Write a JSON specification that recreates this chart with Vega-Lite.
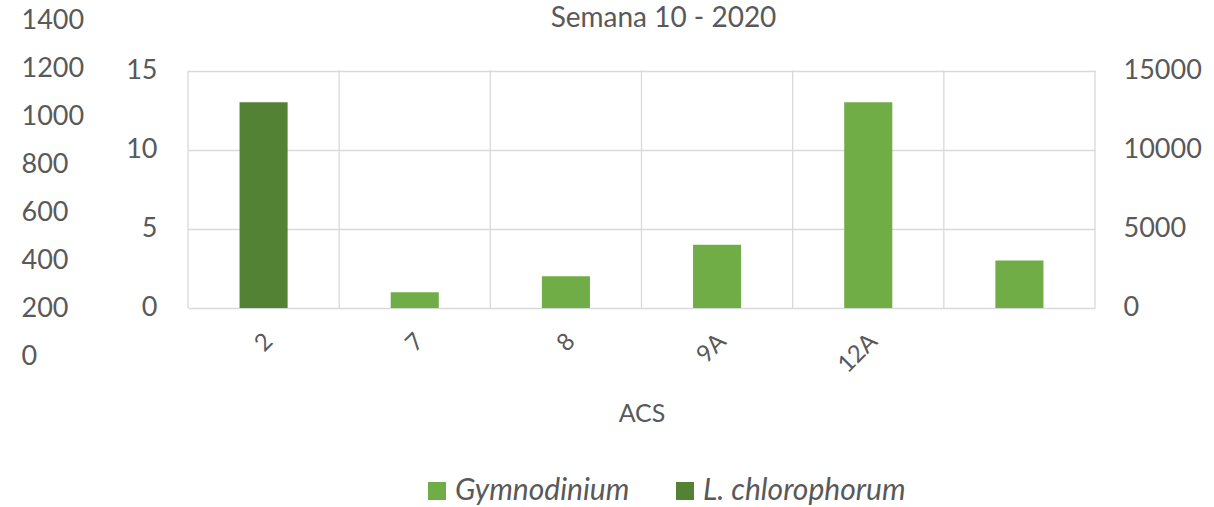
{
  "$schema": "https://vega.github.io/schema/vega-lite/v6.json",
  "width": 907,
  "height": 336,
  "autosize": {"type": "none"},
  "padding": {"left": 188, "top": 20, "right": 119, "bottom": 151},
  "background": "white",
  "title": {
    "text": "Semana 10 - 2020",
    "anchor": "middle",
    "frame": "group",
    "fontSize": 28,
    "font": "Lato",
    "fontWeight": "normal",
    "color": "#595959",
    "dx": 22,
    "offset": -27
  },
  "data": {
    "values": [
      {"acs": "2", "species": "L. chlorophorum", "value": 13},
      {"acs": "7", "species": "Gymnodinium", "value": 1000},
      {"acs": "8", "species": "Gymnodinium", "value": 2000},
      {"acs": "9A", "species": "Gymnodinium", "value": 4000},
      {"acs": "12A", "species": "Gymnodinium", "value": 13000},
      {"acs": " ", "species": "Gymnodinium", "value": 3000}
    ]
  },
  "layer": [
    {
      "mark": {"type": "rule", "color": "#d9d9d9", "strokeWidth": 1.3},
      "encoding": {
        "x": {"field": "acs", "type": "nominal", "bandPosition": 0,
              "scale": {"type": "band", "domain": ["2", "7", "8", "9A", "12A", " "], "paddingInner": 0, "paddingOuter": 0},
              "axis": {"title": "ACS", "labelAngle": -45, "labelFontSize": 24, "titleFontSize": 25, "offset": -48, "domain": false, "ticks": false, "grid": false, "labelPadding": 21, "labelOffset": -3, "titlePadding": 24}},
        "y": {"datum": 0, "type": "quantitative", "scale": {"domain": [-3.032, 18.19], "nice": false, "zero": false}, "axis": null},
        "y2": {"datum": 15}
      }
    },
    {
      "transform": [{"filter": "datum.acs === ' '"}],
      "mark": {"type": "rule", "color": "#d9d9d9", "strokeWidth": 1.3},
      "encoding": {
        "x": {"field": "acs", "type": "nominal", "bandPosition": 1,
              "scale": {"type": "band", "domain": ["2", "7", "8", "9A", "12A", " "], "paddingInner": 0, "paddingOuter": 0},
              "axis": {"title": "ACS", "labelAngle": -45, "labelFontSize": 24, "titleFontSize": 25, "offset": -48, "domain": false, "ticks": false, "grid": false, "labelPadding": 21, "labelOffset": -3, "titlePadding": 24}},
        "y": {"datum": 0, "type": "quantitative", "scale": {"domain": [-3.032, 18.19], "nice": false, "zero": false}, "axis": null},
        "y2": {"datum": 15}
      }
    },
    {
      "transform": [{"filter": "datum.species === 'L. chlorophorum'"}],
      "mark": {"type": "bar", "width": {"band": 0.318}},
      "encoding": {
        "x": {"field": "acs", "type": "nominal",
              "scale": {"type": "band", "domain": ["2", "7", "8", "9A", "12A", " "], "paddingInner": 0, "paddingOuter": 0},
              "axis": {"title": "ACS", "labelAngle": -45, "labelFontSize": 24, "titleFontSize": 25, "offset": -48, "domain": false, "ticks": false, "grid": false, "labelPadding": 21, "labelOffset": -3, "titlePadding": 24}},
        "y": {"field": "value", "type": "quantitative",
              "scale": {"domain": [-3.032, 18.19], "nice": false, "zero": false},
              "axis": {"orient": "left", "values": [0, 5, 10, 15], "format": "d", "grid": true, "gridColor": "#d9d9d9", "gridWidth": 1.3, "domain": false, "ticks": false, "labelPadding": 31, "title": null}},
        "color": {"field": "species", "type": "nominal",
                  "scale": {"domain": ["Gymnodinium", "L. chlorophorum"], "range": ["#70AD47", "#548235"]},
                  "legend": {"orient": "none", "legendX": 234, "legendY": 456, "direction": "horizontal", "title": null, "symbolType": "square", "symbolSize": 324, "symbolStrokeWidth": 0, "symbolOpacity": 1, "labelFontStyle": "italic", "labelFontSize": 30, "labelFont": "Lato", "labelColor": "#595959", "labelOffset": 3, "labelLimit": 500, "columnPadding": 40}}
      }
    },
    {
      "transform": [{"filter": "datum.species === 'Gymnodinium'"}],
      "mark": {"type": "bar", "width": {"band": 0.318}},
      "encoding": {
        "x": {"field": "acs", "type": "nominal",
              "scale": {"type": "band", "domain": ["2", "7", "8", "9A", "12A", " "], "paddingInner": 0, "paddingOuter": 0},
              "axis": {"title": "ACS", "labelAngle": -45, "labelFontSize": 24, "titleFontSize": 25, "offset": -48, "domain": false, "ticks": false, "grid": false, "labelPadding": 21, "labelOffset": -3, "titlePadding": 24}},
        "y": {"field": "value", "type": "quantitative",
              "scale": {"domain": [-3032, 18190], "nice": false, "zero": false},
              "axis": {"orient": "right", "values": [0, 5000, 10000, 15000], "format": "d", "grid": false, "domain": false, "ticks": false, "labelPadding": 28, "title": null}},
        "color": {"field": "species", "type": "nominal",
                  "scale": {"domain": ["Gymnodinium", "L. chlorophorum"], "range": ["#70AD47", "#548235"]},
                  "legend": {"orient": "none", "legendX": 234, "legendY": 456, "direction": "horizontal", "title": null, "symbolType": "square", "symbolSize": 324, "symbolStrokeWidth": 0, "symbolOpacity": 1, "labelFontStyle": "italic", "labelFontSize": 30, "labelFont": "Lato", "labelColor": "#595959", "labelOffset": 3, "labelLimit": 500, "columnPadding": 40}}
      }
    },
    {
      "mark": {"type": "rule", "opacity": 0},
      "encoding": {
        "y": {"datum": 0, "type": "quantitative",
              "scale": {"domain": [0, 1400], "nice": false},
              "axis": {"orient": "left", "offset": 160, "values": [0, 200, 400, 600, 800, 1000, 1200, 1400], "format": "d", "grid": false, "domain": false, "ticks": false, "labelPadding": 7, "labelAlign": "left", "title": null}}
      }
    }
  ],
  "resolve": {"scale": {"y": "independent"}, "axis": {"y": "independent"}},
  "config": {
    "font": "Lato",
    "view": {"stroke": null},
    "axis": {"labelFont": "Lato", "labelFontSize": 27, "labelColor": "#595959", "titleFont": "Lato", "titleFontSize": 27, "titleColor": "#595959", "titleFontWeight": "normal", "labelOverlap": false, "labelFlush": false}
  }
}
